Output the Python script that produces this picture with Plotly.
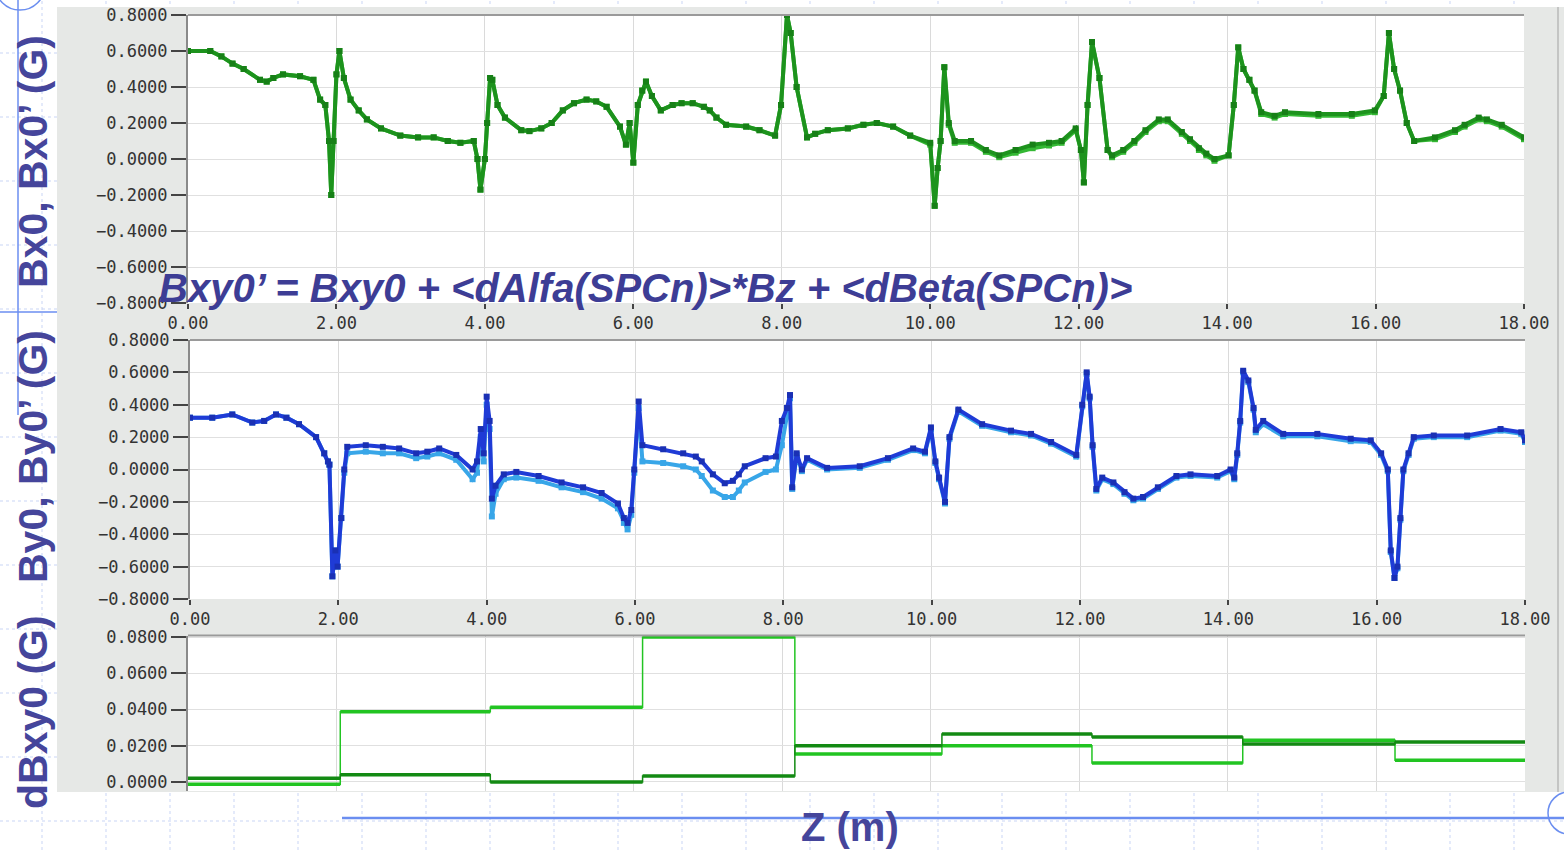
import plotly.graph_objects as go

# ---------------- data ----------------
# Panel 1: Bx0 / Bx0' (G) vs Z (m)
z_bx = [0, 0.3, 0.45, 0.6, 0.75, 0.97, 1.06, 1.15, 1.28, 1.51,
        1.69, 1.78, 1.85, 1.9, 1.93, 1.96, 2.0, 2.04, 2.1, 2.19,
        2.3, 2.41, 2.6, 2.86, 3.1, 3.31, 3.5, 3.67, 3.85, 3.9,
        3.94, 4.0, 4.03, 4.07, 4.1, 4.17, 4.27, 4.49, 4.6, 4.76,
        4.9, 5.05, 5.2, 5.37, 5.5, 5.64, 5.82, 5.9, 5.95, 6.0,
        6.06, 6.12, 6.17, 6.25, 6.37, 6.53, 6.65, 6.8, 6.95, 7.03,
        7.12, 7.25, 7.52, 7.7, 7.91, 7.99, 8.07, 8.12, 8.2, 8.34,
        8.45, 8.62, 8.89, 9.1, 9.28, 9.5, 9.73, 10.0, 10.06, 10.1,
        10.14, 10.19, 10.25, 10.33, 10.55, 10.75, 10.93, 11.15, 11.38, 11.6,
        11.77, 11.96, 12.03, 12.07, 12.12, 12.18, 12.28, 12.39, 12.45, 12.6,
        12.75, 12.9, 13.08, 13.2, 13.39, 13.5, 13.62, 13.72, 13.83, 14.02,
        14.09, 14.15, 14.22, 14.3, 14.37, 14.46, 14.64, 14.78, 15.23, 15.68,
        15.99, 16.11, 16.18, 16.25, 16.33, 16.42, 16.52, 16.8, 17.07, 17.2,
        17.39, 17.5, 17.7, 18.0]
bx0 = [0.60, 0.60, 0.57, 0.53, 0.50, 0.44, 0.43, 0.45, 0.47, 0.46,
       0.44, 0.33, 0.30, 0.10, -0.20, 0.10, 0.47, 0.60, 0.45, 0.33,
       0.27, 0.22, 0.17, 0.13, 0.12, 0.12, 0.10, 0.09, 0.10, 0.00,
       -0.17, 0.00, 0.20, 0.45, 0.44, 0.30, 0.23, 0.16, 0.155, 0.17,
       0.20, 0.27, 0.31, 0.33, 0.32, 0.29, 0.18, 0.08, 0.20, -0.02,
       0.30, 0.38, 0.43, 0.35, 0.27, 0.30, 0.31, 0.31, 0.29, 0.27,
       0.23, 0.19, 0.18, 0.16, 0.13, 0.30, 0.80, 0.70, 0.40, 0.12,
       0.14, 0.16, 0.17, 0.19, 0.20, 0.18, 0.13, 0.09, -0.26, -0.05,
       0.10, 0.51, 0.20, 0.10, 0.10, 0.05, 0.02, 0.05, 0.08, 0.09,
       0.10, 0.17, 0.05, -0.13, 0.30, 0.65, 0.45, 0.05, 0.02, 0.05,
       0.10, 0.16, 0.22, 0.22, 0.15, 0.11, 0.06, 0.03, 0.00, 0.02,
       0.30, 0.62, 0.50, 0.44, 0.38, 0.26, 0.24, 0.26, 0.25, 0.25,
       0.27, 0.35, 0.70, 0.50, 0.38, 0.20, 0.10, 0.12, 0.16, 0.19,
       0.23, 0.22, 0.19, 0.12]
bx0p = [0.60, 0.60, 0.57, 0.53, 0.50, 0.44, 0.43, 0.45, 0.47, 0.46,
        0.44, 0.33, 0.30, 0.10, -0.20, 0.10, 0.47, 0.60, 0.45, 0.33,
        0.27, 0.22, 0.17, 0.13, 0.12, 0.12, 0.10, 0.09, 0.10, 0.00,
        -0.17, 0.00, 0.20, 0.45, 0.44, 0.30, 0.23, 0.16, 0.155, 0.17,
        0.20, 0.27, 0.31, 0.33, 0.32, 0.29, 0.18, 0.08, 0.20, -0.02,
        0.30, 0.38, 0.43, 0.35, 0.27, 0.30, 0.31, 0.31, 0.29, 0.27,
        0.23, 0.19, 0.18, 0.16, 0.13, 0.30, 0.80, 0.70, 0.40, 0.12,
        0.14, 0.16, 0.17, 0.19, 0.20, 0.18, 0.13, 0.08, -0.26, -0.05,
        0.10, 0.51, 0.19, 0.09, 0.09, 0.04, 0.01, 0.035, 0.06, 0.075,
        0.09, 0.16, 0.05, -0.13, 0.30, 0.65, 0.45, 0.05, 0.01, 0.04,
        0.09, 0.15, 0.21, 0.21, 0.14, 0.10, 0.05, 0.02, -0.01, 0.02,
        0.30, 0.62, 0.50, 0.44, 0.38, 0.25, 0.23, 0.25, 0.24, 0.24,
        0.26, 0.35, 0.70, 0.50, 0.38, 0.20, 0.10, 0.11, 0.15, 0.18,
        0.22, 0.21, 0.18, 0.11]

# Panel 2: By0 / By0' (G) vs Z (m)
z_by = [0, 0.3, 0.57, 0.84, 1.0, 1.16, 1.3, 1.47, 1.7, 1.81,
        1.86, 1.88, 1.92, 1.96, 1.99, 2.04, 2.08, 2.12, 2.37, 2.6,
        2.82, 3.05, 3.2, 3.36, 3.59, 3.81, 3.87, 3.92, 3.96, 4.0,
        4.04, 4.07, 4.12, 4.23, 4.4, 4.7, 5.01, 5.3, 5.55, 5.77,
        5.85, 5.9, 5.95, 5.99, 6.05, 6.1, 6.38, 6.65, 6.82, 6.9,
        7.05, 7.21, 7.32, 7.4, 7.48, 7.76, 7.9, 7.98, 8.05, 8.09,
        8.12, 8.18, 8.25, 8.32, 8.59, 9.03, 9.41, 9.75, 9.91, 9.99,
        10.05, 10.1, 10.18, 10.24, 10.36, 10.68, 11.07, 11.34, 11.61, 11.95,
        12.03, 12.09, 12.13, 12.17, 12.22, 12.3, 12.45, 12.6, 12.72, 12.85,
        13.05, 13.3, 13.49, 13.85, 14.03, 14.08, 14.12, 14.16, 14.2, 14.27,
        14.34, 14.37, 14.47, 14.74, 15.2, 15.65, 15.92, 16.06, 16.15, 16.19,
        16.24, 16.28, 16.32, 16.36, 16.43, 16.5, 16.77, 17.22, 17.67, 17.95,
        18.0]
by0 = [0.32, 0.32, 0.34, 0.29, 0.30, 0.34, 0.32, 0.28, 0.20, 0.10,
       0.05, 0.03, -0.66, -0.50, -0.60, -0.30, 0.00, 0.14, 0.15, 0.14,
       0.13, 0.10, 0.11, 0.13, 0.09, 0.00, 0.05, 0.25, 0.10, 0.45,
       0.30, -0.18, -0.10, -0.03, -0.015, -0.04, -0.08, -0.11, -0.145, -0.21,
       -0.30, -0.33, -0.25, 0.00, 0.42, 0.15, 0.125, 0.10, 0.08, 0.05,
       -0.03, -0.085, -0.07, -0.03, 0.02, 0.07, 0.08, 0.30, 0.38, 0.46,
       -0.11, 0.10, 0.00, 0.07, 0.01, 0.02, 0.07, 0.13, 0.11, 0.26,
       0.05, -0.05, -0.20, 0.20, 0.37, 0.28, 0.24, 0.22, 0.17, 0.09,
       0.40, 0.60, 0.45, 0.15, -0.12, -0.05, -0.08, -0.14, -0.18, -0.17,
       -0.11, -0.04, -0.03, -0.04, 0.00, -0.05, 0.10, 0.30, 0.61, 0.55,
       0.38, 0.245, 0.30, 0.22, 0.22, 0.19, 0.18, 0.10, 0.00, -0.50,
       -0.67, -0.60, -0.30, 0.00, 0.10, 0.20, 0.21, 0.21, 0.25, 0.23,
       0.18]
by0p = [0.32, 0.32, 0.34, 0.29, 0.30, 0.34, 0.32, 0.28, 0.20, 0.10,
        0.05, 0.03, -0.66, -0.50, -0.60, -0.30, -0.02, 0.10, 0.11, 0.10,
        0.10, 0.07, 0.08, 0.10, 0.06, -0.06, -0.02, 0.20, 0.05, 0.40,
        0.25, -0.29, -0.15, -0.06, -0.05, -0.07, -0.11, -0.14, -0.18, -0.24,
        -0.33, -0.37, -0.28, -0.02, 0.38, 0.05, 0.04, 0.02, 0.00, -0.04,
        -0.13, -0.17, -0.17, -0.13, -0.08, -0.015, 0.00, 0.15, 0.35, 0.44,
        -0.12, 0.09, -0.01, 0.06, 0.00, 0.01, 0.06, 0.12, 0.10, 0.25,
        0.04, -0.06, -0.21, 0.19, 0.36, 0.27, 0.23, 0.21, 0.16, 0.08,
        0.39, 0.59, 0.44, 0.14, -0.13, -0.06, -0.09, -0.15, -0.19, -0.18,
        -0.12, -0.05, -0.04, -0.05, -0.01, -0.06, 0.09, 0.29, 0.60, 0.54,
        0.37, 0.23, 0.28, 0.205, 0.205, 0.175, 0.17, 0.09, -0.01, -0.51,
        -0.67, -0.61, -0.31, -0.01, 0.09, 0.19, 0.20, 0.20, 0.24, 0.22,
        0.17]

# Panel 3: dBxy0 (G) step values between station edges
step_edges = [0, 2.05, 4.07, 6.12, 8.17, 10.15, 12.17, 14.2, 16.25, 18.0]
dbxy_light = [-0.0012, 0.0387, 0.0413, 0.0800, 0.0155, 0.0200, 0.0105, 0.0230, 0.0120]
dbxy_dark = [0.0020, 0.0040, 0.0000, 0.0033, 0.0200, 0.0265, 0.0248, 0.0210, 0.0220]

formula = "Bxy0’ = Bxy0 + &lt;dAlfa(SPCn)&gt;*Bz + &lt;dBeta(SPCn)&gt;"
ytitles = ["Bx0, Bx0’ (G)", "By0, By0’ (G)", "dBxy0 (G)"]
xtitle = "Z (m)"

# ---------------- figure ----------------
W, H = 1564, 850
def px(x):
    return x / W
def py(y):
    return 1 - y / H

fig = go.Figure()

DG1, LG1 = "#1d931d", "#34b834"
DB, LB = "#1f3bd6", "#38a6e8"
DG3, LG3 = "#138a13", "#22c422"

fig.add_trace(go.Scatter(x=z_bx, y=bx0p, mode="lines+markers", xaxis="x", yaxis="y",
                         line=dict(color=LG1, width=4), marker=dict(symbol="square", size=6, color=LG1),
                         name="Bx0'"))
fig.add_trace(go.Scatter(x=z_bx, y=bx0, mode="lines+markers", xaxis="x", yaxis="y",
                         line=dict(color=DG1, width=4), marker=dict(symbol="square", size=6, color="#178017"),
                         name="Bx0"))
fig.add_trace(go.Scatter(x=z_by, y=by0p, mode="lines+markers", xaxis="x2", yaxis="y2",
                         line=dict(color=LB, width=4), marker=dict(symbol="square", size=6, color=LB),
                         name="By0'"))
fig.add_trace(go.Scatter(x=z_by, y=by0, mode="lines+markers", xaxis="x2", yaxis="y2",
                         line=dict(color=DB, width=4), marker=dict(symbol="square", size=6, color="#1a30b4"),
                         name="By0"))

def step_traces(vals, color):
    xs = list(step_edges)
    ys = list(vals) + [vals[-1]]
    thin = go.Scatter(x=xs, y=ys, mode="lines", line=dict(color=color, width=1.5, shape="hv"),
                      xaxis="x3", yaxis="y3", hoverinfo="skip")
    hx, hy = [], []
    for i, v in enumerate(vals):
        hx += [step_edges[i], step_edges[i + 1], None]
        hy += [v, v, None]
    thick = go.Scatter(x=hx, y=hy, mode="lines", line=dict(color=color, width=3.5),
                       xaxis="x3", yaxis="y3")
    return [thin, thick]

for t in step_traces(dbxy_light, LG3) + step_traces(dbxy_dark, DG3):
    fig.add_trace(t)

tickfont = dict(family="DejaVu Sans Mono", size=17, color="#333333")
common_x = dict(range=[0, 18], dtick=2, tick0=0, showgrid=True, gridcolor="#dadada", gridwidth=1,
                zeroline=False, ticks="outside", ticklen=5, tickcolor="#444444", tickwidth=1.5,
                tickfont=tickfont, showline=False, fixedrange=True, automargin=False)
common_y = dict(showgrid=True, gridcolor="#e0e0e0", gridwidth=1, zeroline=False, ticks="outside",
                ticklen=15, tickcolor="#444444", tickwidth=1.5, tickfont=tickfont,
                showline=True, linecolor="#8a8a8a", linewidth=2, fixedrange=True, automargin=False)

fig.update_layout(
    template="none",
    width=W, height=H,
    margin=dict(l=0, r=0, t=0, b=0, pad=0, autoexpand=False),
    paper_bgcolor="#ffffff", plot_bgcolor="#ffffff",
    showlegend=False,
    xaxis=dict(common_x, domain=[px(188), px(1524)], anchor="y", tickformat=".2f"),
    yaxis=dict(common_y, domain=[py(303), py(15)], anchor="x", range=[-0.8, 0.8], dtick=0.2,
               tick0=0, tickformat=".4f"),
    xaxis2=dict(common_x, domain=[px(190), px(1525)], anchor="y2", tickformat=".2f"),
    yaxis2=dict(common_y, domain=[py(599), py(340)], anchor="x2", range=[-0.8, 0.8], dtick=0.2,
                tick0=0, tickformat=".4f"),
    xaxis3=dict(common_x, domain=[px(188), px(1525)], anchor="y3", showticklabels=False, ticks=""),
    yaxis3=dict(common_y, domain=[py(791), py(635.5)], anchor="x3", range=[-0.00497, 0.08083],
                dtick=0.02, tick0=0, tickformat=".4f"),
)

shapes = []
# slide background dotted grid
for gx in range(42, W + 40, 64):
    shapes.append(dict(type="line", xref="paper", yref="paper", x0=px(gx), x1=px(gx), y0=0, y1=1,
                       line=dict(color="#c9d5f5", width=1, dash="dot"), layer="below"))
for gy in range(53, H + 40, 64):
    shapes.append(dict(type="line", xref="paper", yref="paper", x0=0, x1=1, y0=py(gy), y1=py(gy),
                       line=dict(color="#c9d5f5", width=1, dash="dot"), layer="below"))
# chart window gray background
shapes.append(dict(type="rect", xref="paper", yref="paper", x0=px(57), x1=1, y0=py(792), y1=py(7),
                   fillcolor="#e6e8e6", line=dict(width=0), layer="below"))
shapes.append(dict(type="line", xref="paper", yref="paper", x0=px(1558), x1=px(1558), y0=py(792), y1=py(7),
                   line=dict(color="#b8bab8", width=1.5), layer="below"))
# white plot areas
for xa, ya in [("x", "y"), ("x2", "y2"), ("x3", "y3")]:
    shapes.append(dict(type="rect", xref=xa + " domain", yref=ya + " domain", x0=0, x1=1, y0=0, y1=1,
                       fillcolor="#ffffff", line=dict(width=0), layer="below"))
# top frame lines of each plot
for xa, ya in [("x", "y"), ("x2", "y2"), ("x3", "y3")]:
    shapes.append(dict(type="line", xref=xa + " domain", yref=ya + " domain", x0=0, x1=1, y0=1, y1=1,
                       line=dict(color="#9a9a9a", width=2)))
# slide decorations
blue = "#6b8ef0"
shapes.append(dict(type="line", xref="paper", yref="paper", x0=px(342), x1=1, y0=py(818), y1=py(818),
                   line=dict(color=blue, width=2.5)))
shapes.append(dict(type="line", xref="paper", yref="paper", x0=px(18), x1=px(18), y0=py(415), y1=1,
                   line=dict(color=blue, width=1.5)))
shapes.append(dict(type="line", xref="paper", yref="paper", x0=0, x1=px(57), y0=py(312), y1=py(312),
                   line=dict(color=blue, width=1.5)))
shapes.append(dict(type="circle", xref="paper", yref="paper", x0=px(-5), x1=px(45), y0=py(10), y1=py(-40),
                   line=dict(color=blue, width=1.5)))
shapes.append(dict(type="circle", xref="paper", yref="paper", x0=px(1548), x1=px(1590), y0=py(834), y1=py(792),
                   line=dict(color=blue, width=1.5)))
fig.update_layout(shapes=shapes)

title_color = "#45459b"
annotations = [
    dict(text=formula, xref="paper", yref="paper", x=px(157), y=py(288), xanchor="left", yanchor="middle",
         showarrow=False, font=dict(family="Liberation Sans", size=40, color="#3d3d95",
                                    weight="bold", style="italic")),
    dict(text=xtitle, xref="paper", yref="paper", x=px(850), y=py(827), xanchor="center", yanchor="middle",
         showarrow=False, font=dict(family="Liberation Sans", size=40, color=title_color, weight="bold")),
]
for t, yc in zip(ytitles, [162, 457, 712]):
    annotations.append(dict(text=t, xref="paper", yref="paper", x=px(33), y=py(yc), xanchor="center",
                            yanchor="middle", textangle=-90, showarrow=False,
                            font=dict(family="Liberation Sans", size=41, color=title_color, weight="bold")))
fig.update_layout(annotations=annotations)

fig.write_html("out.html", config={"displayModeBar": False},
               post_script="document.body.style.margin='0';")
